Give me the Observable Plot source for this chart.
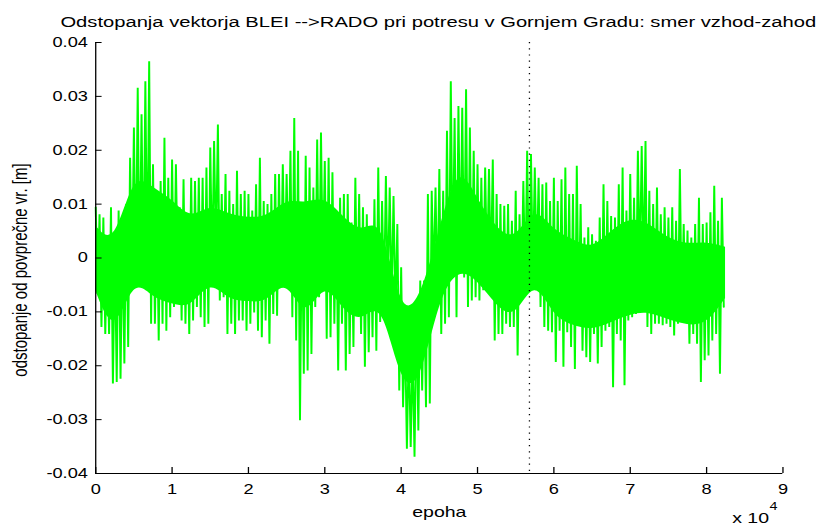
<!DOCTYPE html>
<html><head><meta charset="utf-8">
<script src="https://cdn.jsdelivr.net/npm/d3@7"></script>
<script src="https://cdn.jsdelivr.net/npm/@observablehq/plot@0.6"></script>
<style>
html,body{margin:0;padding:0;background:#fff;}
#wrap{position:relative;width:632px;height:530px;transform:scaleX(1.3006);transform-origin:0 0;font-family:"Liberation Sans",Arial,sans-serif;}
#title{position:absolute;left:337px;top:14px;transform:translateX(-50%);white-space:nowrap;font-size:15.5px;line-height:1;color:#000;}
#chart{position:absolute;left:0;top:34px;}
</style></head><body>
<div id="wrap"><div id="title"></div><div id="chart"></div></div>
<script>
const titleText = "Odstopanja vektorja BLEI -->RADO pri potresu v Gornjem Gradu: smer vzhod-zahod";
const xLabel = "epoha";
const yLabel = "odstopanje od povprečne vr. [m]";
const xMultiplier = "x 10";
const xExponent = "4";
const xTicks = [0, 10000, 20000, 30000, 40000, 50000, 60000, 70000, 80000, 90000];
const xTickLabels = ["0", "1", "2", "3", "4", "5", "6", "7", "8", "9"];
const yTicks = [-0.04, -0.03, -0.02, -0.01, 0, 0.01, 0.02, 0.03, 0.04];
const yTickLabels = ["-0.04", "-0.03", "-0.02", "-0.01", "0", "0.01", "0.02", "0.03", "0.04"];
const markerEpoch = 56800;
const sampleStep = 500; // epochs between successive swing readings
const coreStep = 2500;  // epochs between readings of the dense core band

// upper swings of the signal, one per sampleStep epochs (m)
const upper = [
  0.0094, 0.0081, 0.0075, 0.0032, 0.0094, 0.0020, 0.0088, 0.0044, 0.0100, 0.0186,
  0.0242, 0.0316, 0.0267, 0.0328, 0.0365, 0.0174, 0.0106, 0.0143, 0.0223, 0.0149,
  0.0183, 0.0174, 0.0094, 0.0146, 0.0069, 0.0149, 0.0143, 0.0149, 0.0149, 0.0168,
  0.0205, 0.0217, 0.0248, 0.0119, 0.0156, 0.0125, 0.0100, 0.0162, 0.0119, 0.0125,
  0.0119, 0.0088, 0.0137, 0.0186, 0.0106, 0.0100, 0.0119, 0.0156, 0.0156, 0.0174,
  0.0156, 0.0199, 0.0260, 0.0199, 0.0081, 0.0190, 0.0168, 0.0131, 0.0220, 0.0233,
  0.0180, 0.0186, 0.0159, 0.0088, 0.0112, 0.0119, 0.0119, 0.0066, 0.0149, 0.0119,
  0.0094, 0.0081, 0.0054, 0.0109, 0.0168, 0.0106, 0.0152, 0.0131, 0.0115, 0.0063,
  -0.0017, -0.0128, -0.0159, -0.0172, -0.0091, -0.0042, -0.0042, 0.0119, 0.0125, 0.0131,
  0.0165, 0.0125, 0.0236, 0.0328, 0.0260, 0.0282, 0.0279, 0.0313, 0.0242, 0.0199,
  0.0174, 0.0149, 0.0168, 0.0165, 0.0183, 0.0119, 0.0100, 0.0097, 0.0100, 0.0069,
  0.0125, 0.0081, 0.0143, 0.0199, 0.0193, 0.0168, 0.0149, 0.0137, 0.0140, 0.0106,
  0.0149, 0.0106, 0.0146, 0.0168, 0.0119, 0.0119, 0.0171, 0.0100, 0.0038, 0.0057,
  0.0044, 0.0032, 0.0075, 0.0137, 0.0106, 0.0078, 0.0075, 0.0137, 0.0168, 0.0088,
  0.0156, 0.0112, 0.0199, 0.0208, 0.0217, 0.0125, 0.0100, 0.0131, 0.0081, 0.0094,
  0.0075, 0.0094, 0.0069, 0.0165, 0.0063, 0.0051, 0.0038, 0.0063, 0.0112, 0.0063,
  0.0066, 0.0085, 0.0134, 0.0069, 0.0112
];
// lower swings of the signal, half a step later (m)
const lower = [
  -0.0067, -0.0128, -0.0141, -0.0141, -0.0233, -0.0230, -0.0224, -0.0196, -0.0165, -0.0042,
  -0.0042, -0.0048, -0.0054, -0.0042, -0.0122, -0.0122, -0.0153, -0.0122, -0.0135, -0.0110,
  -0.0091, -0.0042, -0.0116, -0.0122, -0.0141, -0.0116, -0.0091, -0.0110, -0.0128, -0.0122,
  -0.0023, 0.0007, -0.0079, -0.0073, -0.0141, -0.0122, -0.0141, -0.0116, -0.0116, -0.0135,
  -0.0122, -0.0101, -0.0135, -0.0147, -0.0116, -0.0159, -0.0104, -0.0107, -0.0054, -0.0036,
  -0.0030, -0.0110, -0.0153, -0.0301, -0.0215, -0.0209, -0.0178, -0.0091, -0.0073, -0.0030,
  -0.0150, -0.0147, -0.0122, -0.0209, -0.0122, -0.0209, -0.0178, -0.0165, -0.0098, -0.0141,
  -0.0202, -0.0175, -0.0147, -0.0172, -0.0119, -0.0085, -0.0067, -0.0085, -0.0104, -0.0246,
  -0.0277, -0.0354, -0.0351, -0.0369, -0.0320, -0.0246, -0.0277, -0.0270, -0.0048, -0.0079,
  -0.0141, -0.0122, -0.0110, -0.0030, -0.0110, -0.0017, -0.0036, -0.0091, -0.0079, -0.0073,
  -0.0079, -0.0060, -0.0036, -0.0030, -0.0153, -0.0141, -0.0141, -0.0122, -0.0128, -0.0128,
  -0.0181, -0.0073, -0.0054, -0.0054, -0.0030, -0.0030, -0.0091, -0.0128, -0.0135, -0.0138,
  -0.0193, -0.0135, -0.0202, -0.0138, -0.0165, -0.0206, -0.0116, -0.0172, -0.0184, -0.0193,
  -0.0141, -0.0196, -0.0165, -0.0135, -0.0128, -0.0240, -0.0141, -0.0153, -0.0236, -0.0116,
  -0.0110, -0.0104, -0.0030, -0.0030, -0.0128, -0.0141, -0.0122, -0.0122, -0.0125, -0.0122,
  -0.0128, -0.0144, -0.0122, -0.0110, -0.0116, -0.0159, -0.0141, -0.0159, -0.0230, -0.0190,
  -0.0181, -0.0153, -0.0141, -0.0215, -0.0091
];
// edges of the densely filled core of the trace, one per coreStep epochs (m)
const coreUpper = [
  0.0060, 0.0020, 0.0160, 0.0130, 0.0110, 0.0070, 0.0100, 0.0080, 0.0075, 0.0075,
  0.0110, 0.0100, 0.0115, 0.0075, 0.0045, 0.0080, -0.0110, -0.0080, 0.0050, 0.0180,
  0.0110, 0.0055, 0.0030, 0.0100, 0.0050, 0.0035, 0.0015, 0.0050, 0.0075, 0.0065,
  0.0035, 0.0025, 0.0030, 0.0020
];
const coreLower = [
  -0.0060, -0.0150, -0.0035, -0.0075, -0.0085, -0.0095, -0.0040, -0.0080, -0.0080, -0.0085,
  -0.0035, -0.0120, -0.0040, -0.0100, -0.0120, -0.0075, -0.0240, -0.0240, -0.0075, -0.0020,
  -0.0040, -0.0090, -0.0115, -0.0035, -0.0110, -0.0125, -0.0135, -0.0120, -0.0105, -0.0100,
  -0.0115, -0.0125, -0.0125, -0.0075
];

document.getElementById("title").textContent = titleText;

const series = [];
upper.forEach((u, i) => {
  series.push({epoch: i * sampleStep, value: u});
  series.push({epoch: i * sampleStep + sampleStep / 2, value: lower[i]});
});
const core = coreUpper.map((u, i) => ({epoch: i * coreStep, hi: u, lo: coreLower[i]}));
const xMap = new Map(xTicks.map((t, i) => [t, xTickLabels[i]]));
const yMap = new Map(yTicks.map((t, i) => [t, yTickLabels[i]]));

const W = 632, H = 496;
const mL = 73.1, mR = 30.5, mT = 8, mB = 57;
const frameW = W - mL - mR, frameH = H - mT - mB;

const chart = Plot.plot({
  width: W, height: H,
  marginLeft: mL, marginRight: mR, marginTop: mT, marginBottom: mB,
  style: {fontFamily: '"Liberation Sans", Arial, sans-serif', fontSize: "14px", background: "transparent", color: "black", overflow: "visible"},
  x: {domain: [0, 90000]},
  y: {domain: [-0.04, 0.04]},
  marks: [
    Plot.areaY(core, {x: "epoch", y1: "lo", y2: "hi", fill: "#00ff00", curve: "basis"}),
    Plot.line(series, {x: "epoch", y: "value", stroke: "#00ff00", strokeWidth: 1.5, strokeLinejoin: "miter", strokeMiterlimit: 1}),
    Plot.ruleX([markerEpoch], {stroke: "black", strokeWidth: 1, strokeDasharray: "1.2,5"}),
    Plot.ruleX([0], {stroke: "black", strokeWidth: 1}),
    Plot.ruleY([-0.04], {stroke: "black", strokeWidth: 1}),
    Plot.ruleX(xTicks, {stroke: "black", strokeWidth: 1, insetTop: frameH - 6}),
    Plot.ruleY(yTicks, {stroke: "black", strokeWidth: 1, insetRight: frameW - 5}),
    Plot.axisX(xTicks, {tickSize: 0, tickPadding: 11, tickFormat: d => xMap.get(d), label: null, fontSize: 14}),
    Plot.axisY(yTicks, {tickSize: 0, tickPadding: 6, tickFormat: d => yMap.get(d), label: null, fontSize: 14}),
    Plot.text([yLabel], {text: d => d, frameAnchor: "left", rotate: -90, dx: -57.7, dy: 12, fontSize: 15, lineAnchor: "middle", textAnchor: "middle", fill: "black"}),
    Plot.text([xLabel], {text: d => d, frameAnchor: "bottom", dy: 33, fontSize: 15, lineAnchor: "top", textAnchor: "middle", fill: "black"}),
    Plot.text([xMultiplier], {text: d => d, frameAnchor: "bottom-right", dx: -10.7, dy: 39, fontSize: 15, lineAnchor: "top", textAnchor: "end", fill: "black"}),
    Plot.text([xExponent], {text: d => d, frameAnchor: "bottom-right", dx: -10.3, dy: 29, fontSize: 11, lineAnchor: "top", textAnchor: "start", fill: "black"})
  ]
});
document.getElementById("chart").appendChild(chart);
</script>
</body></html>
